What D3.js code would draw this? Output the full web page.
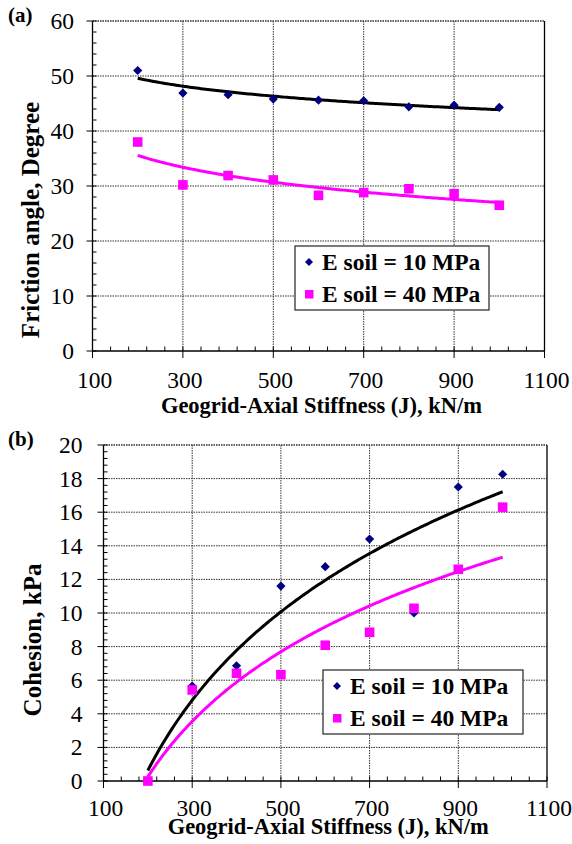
<!DOCTYPE html>
<html>
<head>
<meta charset="utf-8">
<script src="https://cdn.jsdelivr.net/npm/d3@7"></script>
<style>
  body { margin: 0; background: #fff; }
  svg text { font-family: "Liberation Serif", "Times New Roman", serif; fill: #000; }
</style>
</head>
<body>
<div id="chart"></div>
<script>
// geogrid axial stiffness J (kN/m)
var stiffness = [200, 300, 400, 500, 600, 700, 800, 900, 1000];
// friction angle (degree)
var phiE10 = [51.0, 46.9, 46.6, 45.8, 45.6, 45.5, 44.4, 44.7, 44.3];
var phiE40 = [38.0, 30.2, 31.9, 31.1, 28.3, 28.8, 29.5, 28.6, 26.5];
// cohesion (kPa)
var cohE10 = [0.0, 5.65, 6.86, 11.6, 12.76, 14.4, 10.0, 17.5, 18.26];
var cohE40 = [0.0, 5.42, 6.41, 6.33, 8.08, 8.85, 10.28, 12.6, 16.3];

var xTicks = [100, 300, 500, 700, 900, 1100];
var phiTicks = [0, 10, 20, 30, 40, 50, 60];
var cohTicks = [0, 2, 4, 6, 8, 10, 12, 14, 16, 18, 20];
var seriesNames = ["E soil = 10 MPa", "E soil = 40 MPa"];

var W = 572, H = 844;
var svg = d3.select("#chart").append("svg")
    .attr("width", W)
    .attr("height", H);

// excel style logarithmic trendline: y = a ln(x) + b
function logFit(xs, ys) {
    var lx = xs.map(Math.log);
    var mx = d3.mean(lx), my = d3.mean(ys);
    var sxy = 0, sxx = 0;
    lx.forEach(function(v, i) {
        sxy += (v - mx) * (ys[i] - my);
        sxx += (v - mx) * (v - mx);
    });
    var a = sxy / sxx;
    var b = my - a * mx;
    return function(x) { return a * Math.log(x) + b; };
}

function diamond(s) {
    return "M0," + (-s) + "L" + s + ",0L0," + s + "L" + (-s) + ",0Z";
}

function drawPanel(cfg) {
    var x = d3.scaleLinear().domain([100, 1100]).range([cfg.left, cfg.right]);
    var y = d3.scaleLinear().domain(cfg.yDomain).range([cfg.bottom, cfg.top]);
    var g = svg.append("g");

    // grid
    g.selectAll(".hg").data(cfg.yTicks.slice(1)).enter().append("line")
        .attr("x1", cfg.left).attr("x2", cfg.right)
        .attr("y1", d => y(d)).attr("y2", d => y(d))
        .attr("stroke", "#333").attr("stroke-width", 1)
        .attr("stroke-dasharray", "1.5,1");
    g.selectAll(".vg").data(xTicks.slice(1, -1)).enter().append("line")
        .attr("x1", d => x(d)).attr("x2", d => x(d))
        .attr("y1", cfg.top).attr("y2", cfg.bottom)
        .attr("stroke", "#333").attr("stroke-width", 1)
        .attr("stroke-dasharray", "1.5,1");

    // minor ticks (inside)
    g.selectAll(".ymt").data(d3.range(cfg.yDomain[0], cfg.yDomain[1] + 1e-9, cfg.yMinor)).enter().append("line")
        .attr("x1", cfg.left).attr("x2", cfg.left + 4)
        .attr("y1", d => y(d)).attr("y2", d => y(d))
        .attr("stroke", "#000");
    g.selectAll(".xmt").data(d3.range(100, 1100 + 1e-9, 40)).enter().append("line")
        .attr("x1", d => x(d)).attr("x2", d => x(d))
        .attr("y1", cfg.bottom).attr("y2", cfg.bottom - 4.5)
        .attr("stroke", "#000");

    // major ticks (outside)
    g.selectAll(".ymj").data(cfg.yTicks).enter().append("line")
        .attr("x1", cfg.left - 6).attr("x2", cfg.left)
        .attr("y1", d => y(d)).attr("y2", d => y(d))
        .attr("stroke", "#000");
    g.selectAll(".xmj").data(xTicks).enter().append("line")
        .attr("x1", d => x(d)).attr("x2", d => x(d))
        .attr("y1", cfg.bottom).attr("y2", cfg.bottom + 7)
        .attr("stroke", "#000");

    // axes frame
    g.append("line").attr("x1", cfg.left).attr("x2", cfg.left)
        .attr("y1", cfg.top).attr("y2", cfg.bottom).attr("stroke", "#000").attr("stroke-width", 1.3);
    g.append("line").attr("x1", cfg.left).attr("x2", cfg.right)
        .attr("y1", cfg.bottom).attr("y2", cfg.bottom).attr("stroke", "#000").attr("stroke-width", 1.3);
    g.append("line").attr("x1", cfg.right).attr("x2", cfg.right)
        .attr("y1", cfg.top).attr("y2", cfg.bottom).attr("stroke", "#000").attr("stroke-width", 1.3);
    g.append("line").attr("x1", cfg.left).attr("x2", cfg.right)
        .attr("y1", cfg.top).attr("y2", cfg.top).attr("stroke", "#333").attr("stroke-width", 1)
        .attr("stroke-dasharray", "1.5,1");

    // tick labels
    g.selectAll(".yl").data(cfg.yTicks).enter().append("text")
        .attr("x", cfg.left - cfg.yLabelGap).attr("y", d => y(d) + 8)
        .attr("text-anchor", "end").attr("font-size", 23.5)
        .text(d => d);
    g.selectAll(".xl").data(xTicks).enter().append("text")
        .attr("x", d => x(d) + 2).attr("y", cfg.bottom + cfg.xLabelDy)
        .attr("text-anchor", "middle").attr("font-size", 23.5)
        .text(d => d);

    // axis titles
    g.append("text")
        .attr("x", (cfg.left + cfg.right) / 2 + 3).attr("y", cfg.bottom + cfg.xTitleDy)
        .attr("text-anchor", "middle").attr("font-size", 22.5).attr("font-weight", "bold")
        .text("Geogrid-Axial Stiffness (J), kN/m");
    g.append("text")
        .attr("transform", "translate(" + cfg.yTitleX + "," + cfg.yTitleY + ") rotate(-90)")
        .attr("text-anchor", "middle").attr("font-size", 25).attr("font-weight", "bold")
        .text(cfg.yTitle);
    g.append("text")
        .attr("x", 8).attr("y", cfg.tagY)
        .attr("font-size", 21).attr("font-weight", "bold")
        .text(cfg.tag);

    // trendlines
    var xs = d3.range(200, 1000.1, 5);
    var line = d3.line().x(d => x(d[0])).y(d => y(d[1]));
    var f1 = logFit(stiffness, cfg.s1), f2 = logFit(stiffness, cfg.s2);
    g.append("path").datum(xs.map(v => [v, f1(v)]))
        .attr("d", line).attr("fill", "none").attr("stroke", "#000").attr("stroke-width", 3);
    g.append("path").datum(xs.map(v => [v, f2(v)]))
        .attr("d", line).attr("fill", "none").attr("stroke", "#ff00ff").attr("stroke-width", 3);

    // markers
    g.selectAll(".d1").data(cfg.s1).enter().append("path")
        .attr("transform", (d, i) => "translate(" + x(stiffness[i]) + "," + y(d) + ")")
        .attr("d", diamond(4.6)).attr("fill", "#000080");
    g.selectAll(".s2").data(cfg.s2).enter().append("rect")
        .attr("x", (d, i) => x(stiffness[i]) - 4.8).attr("y", d => y(d) - 4.8)
        .attr("width", 9.6).attr("height", 9.6).attr("fill", "#ff00ff");

    // legend
    var L = cfg.legend;
    var lg = g.append("g").attr("transform", "translate(" + L.x + "," + L.y + ")");
    lg.append("rect").attr("x", 0).attr("y", 0).attr("width", L.w).attr("height", L.h)
        .attr("fill", "#fff").attr("stroke", "#333").attr("stroke-width", 1.3);
    lg.append("path").attr("transform", "translate(14,16)").attr("d", diamond(4)).attr("fill", "#000080");
    lg.append("rect").attr("x", 10).attr("y", 44).attr("width", 8.5).attr("height", 8.5).attr("fill", "#ff00ff");
    lg.selectAll(".lt").data(seriesNames).enter().append("text")
        .attr("x", 27).attr("y", (d, i) => 24 + i * 32)
        .attr("font-size", 23.5).attr("font-weight", "bold")
        .text(d => d);
}

drawPanel({
    left: 92.5, right: 544.5, top: 21, bottom: 351,
    yDomain: [0, 60], yTicks: phiTicks, yMinor: 2,
    yLabelGap: 18.5, xLabelDy: 37, xTitleDy: 62,
    yTitle: "Friction angle, Degree", yTitleX: 39, yTitleY: 220,
    tag: "(a)", tagY: 22,
    s1: phiE10, s2: phiE40,
    legend: { x: 295, y: 246, w: 194, h: 64 }
});

drawPanel({
    left: 103.5, right: 547, top: 445, bottom: 781,
    yDomain: [0, 20], yTicks: cohTicks, yMinor: 0.4,
    yLabelGap: 21, xLabelDy: 35, xTitleDy: 53,
    yTitle: "Cohesion, kPa", yTitleX: 41, yTitleY: 640,
    tag: "(b)", tagY: 446,
    s1: cohE10, s2: cohE40,
    legend: { x: 323, y: 670, w: 200, h: 64 }
});
</script>
</body>
</html>
